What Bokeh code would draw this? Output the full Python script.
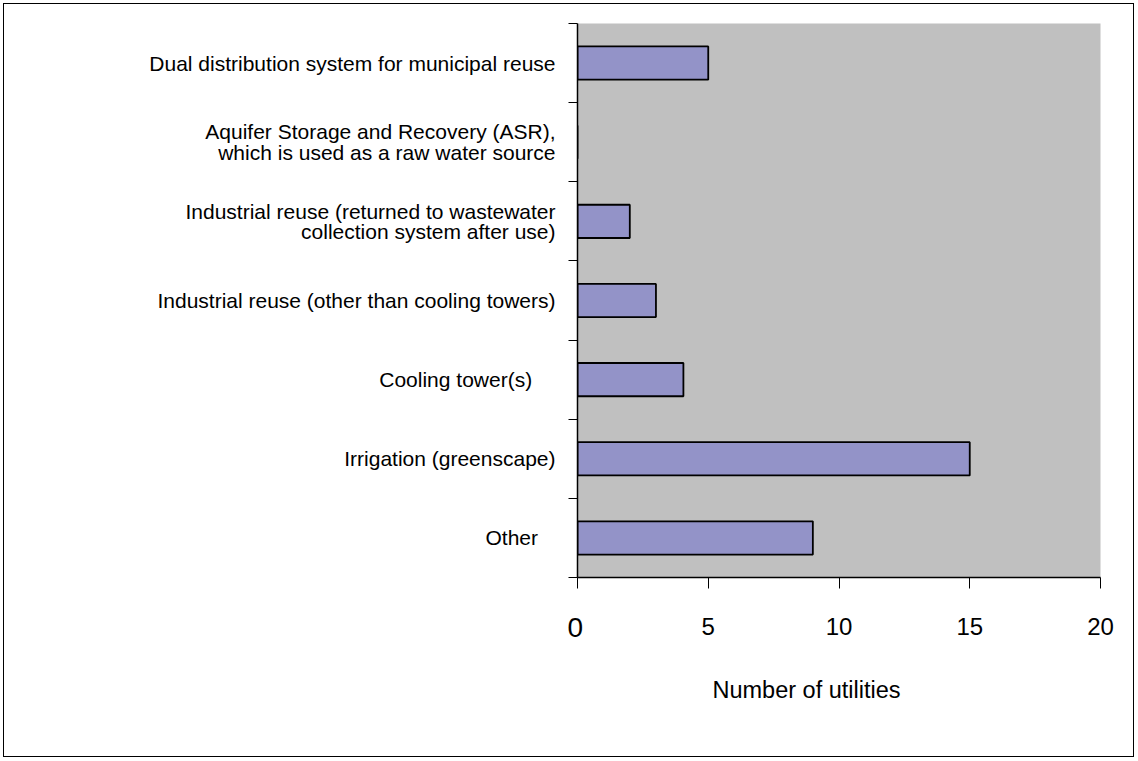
from bokeh.plotting import figure
from bokeh.models import Range1d, LinearAxis, FixedTicker, ColumnDataSource, Title
from bokeh.embed import file_html
from bokeh.resources import INLINE

categories = [
    "Dual distribution system for municipal reuse",
    "Aquifer Storage and Recovery (ASR),\nwhich is used as a raw water source",
    "Industrial reuse (returned to wastewater\ncollection system after use)",
    "Industrial reuse (other than cooling towers)",
    "Cooling tower(s)\u00a0\u00a0\u00a0\u00a0",
    "Irrigation (greenscape)",
    "Other\u00a0\u00a0\u00a0",
]
values = [5, 0, 2, 3, 4.05, 15, 9]
x_ticks = [0, 5, 10, 15, 20]
x_title = "Number of utilities"

n = len(categories)
ypos = [n - i - 0.5 for i in range(n)]
src = ColumnDataSource(dict(y=ypos, v=values, cat=categories))

FONT = "Liberation Sans"

p = figure(width=1131, height=754, output_backend="svg", toolbar_location=None,
           x_range=Range1d(0, 20), y_range=Range1d(0, n),
           x_axis_type=None, y_axis_type=None,
           min_border_left=573, min_border_right=35, min_border_top=19, min_border_bottom=181)
p.styles = {"border": "1px solid #000000", "margin-left": "3px", "margin-top": "3px"}
p.background_fill_color = "#C0C0C0"
p.border_fill_color = "#FFFFFF"
p.outline_line_color = None
p.xgrid.visible = False
p.ygrid.visible = False

p.hbar(y="y", right="v", left=0, height=0.42, source=src,
       fill_color="#9393C8", line_color="#000000", line_width=1.8)

# y axis
yax = LinearAxis(ticker=FixedTicker(ticks=ypos, minor_ticks=list(range(n + 1))))
yax.major_label_overrides = {y: c for y, c in zip(ypos, categories)}
yax.major_tick_out = 0
yax.major_tick_in = 0
yax.minor_tick_out = 9
yax.minor_tick_in = 0
yax.minor_tick_line_color = "#000000"
yax.axis_line_color = "#000000"
yax.axis_line_width = 1.5
yax.major_label_standoff = 13
yax.major_label_text_font = FONT
yax.major_label_text_font_size = "21px"
yax.major_label_text_line_height = 0.9
yax.major_label_text_color = "#000000"
p.add_layout(yax, "left")

# x axis
xax = LinearAxis(ticker=FixedTicker(ticks=x_ticks, minor_ticks=[]))
xax.major_label_overrides = {0: " "}
xax.major_tick_out = 11
xax.major_tick_in = 0
xax.major_tick_line_color = "#000000"
xax.axis_line_color = "#000000"
xax.axis_line_width = 1.5
xax.major_label_standoff = 24
xax.major_label_text_font = FONT
xax.major_label_text_font_size = "24px"
xax.major_label_text_color = "#000000"
p.add_layout(xax, "below")

# the "0" of the x axis is drawn larger in the reference
zero = Title(text=str(x_ticks[0]), align="left", offset=-10, standoff=-50,
             vertical_align="top",
             text_font=FONT, text_font_size="28px", text_font_style="normal",
             text_color="#000000")
p.add_layout(zero, "below")

title = Title(text=x_title, align="left", offset=135, standoff=65,
              text_font=FONT, text_font_size="23.5px", text_font_style="normal",
              text_color="#000000")
p.add_layout(title, "below")

open("out.html", "w").write(file_html(p, INLINE))
